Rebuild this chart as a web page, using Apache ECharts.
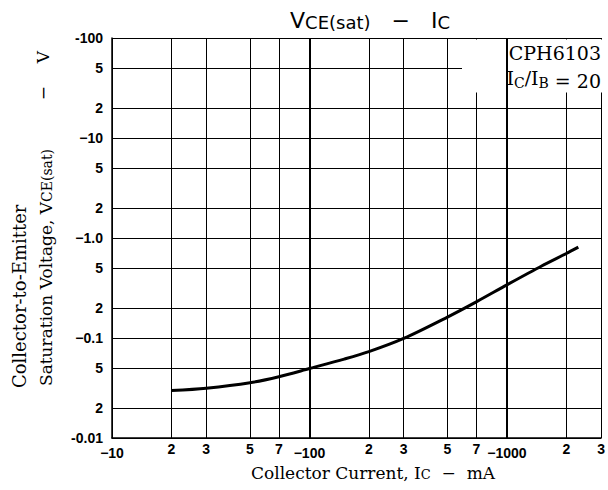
<!DOCTYPE html>
<html><head><meta charset="utf-8">
<script src="https://cdn.jsdelivr.net/npm/echarts@6/dist/echarts.min.js"></script>
<style>html,body{margin:0;padding:0;background:#fff}#c{width:608px;height:490px}</style>
</head><body><div id="c"></div>
<script>
// Data (magnitudes; axis labels carry the minus sign)
const currentMA = [20, 30, 50, 70, 100, 150, 200, 300, 500, 700, 1000, 1500, 2000, 2300];
const vceSat    = [0.0298, 0.0315, 0.0357, 0.041, 0.0495, 0.0615, 0.073, 0.099, 0.162, 0.23, 0.34, 0.525, 0.70, 0.81];
const xTickValues = [10, 20, 30, 50, 70, 100, 200, 300, 500, 700, 1000, 2000, 3000];
const xTickLabels = ['−10', '2', '3', '5', '7', '−100', '2', '3', '5', '7', '−1000', '2', '3'];
const yTickValues = [0.01, 0.02, 0.05, 0.1, 0.2, 0.5, 1, 2, 5, 10, 20, 50, 100];
const yTickLabels = ['-0.01', '2', '5', '−0.1', '2', '5', '−1.0', '2', '5', '−10', '2', '5', '-100'];

function lookup(vals, labels, v) {
  for (let i = 0; i < vals.length; i++) {
    if (Math.abs(Math.log10(v) - Math.log10(vals[i])) < 1e-4) return labels[i];
  }
  return '';
}

const chart = echarts.init(document.getElementById('c'), null, { renderer: 'svg' });
const tickFont = { fontFamily: '"Liberation Sans", Arial, sans-serif', fontWeight: 'bold', fontSize: 14, color: '#000' };
const serif = '"DejaVu Serif", "Liberation Serif", serif';
const sans = '"DejaVu Sans", sans-serif';

chart.setOption({
  animation: false,
  backgroundColor: '#fff',
  grid: { left: 112, right: 1.5, top: 38, bottom: 52 },
  xAxis: {
    type: 'log', logBase: 10, min: 10, max: 3000,
    axisLine: { show: true, lineStyle: { color: '#000', width: 1.5 } },
    axisTick: { show: false, customValues: xTickValues },
    axisLabel: {
      customValues: xTickValues, margin: 4, showMinLabel: true, showMaxLabel: true,
      formatter: v => { const s = lookup(xTickValues, xTickLabels, v); return s.charAt(0) === '−' ? '{d|' + s + '}' : '{n|' + s + '}'; },
      rich: {
        d: Object.assign({}, tickFont, { padding: [4, 0, 0, 0] }),
        n: Object.assign({}, tickFont)
      }
    },
    splitLine: { show: true, lineStyle: { color: '#000', width: 1 } },
    minorSplitLine: { show: false }
  },
  yAxis: {
    type: 'log', logBase: 10, min: 0.01, max: 100,
    axisLine: { show: true, lineStyle: { color: '#000', width: 1.5 } },
    axisTick: { show: false, customValues: yTickValues },
    axisLabel: Object.assign({
      customValues: yTickValues, margin: 9, showMinLabel: true, showMaxLabel: true,
      formatter: v => lookup(yTickValues, yTickLabels, v)
    }, tickFont),
    splitLine: { show: true, lineStyle: { color: '#000', width: 1 } }
  },
  series: [{
    type: 'line',
    data: currentMA.map((x, i) => [x, vceSat[i]]),
    smooth: 0.3,
    symbol: 'none',
    lineStyle: { color: '#000', width: 3 },
    markLine: {
      silent: true, symbol: 'none', label: { show: false },
      lineStyle: { color: '#000', width: 2, type: 'solid' },
      data: [{ xAxis: 100 }, { xAxis: 1000 }]
    },
    z: 5
  }],
  graphic: [
    { type: 'rect', z: 3, shape: { x: 462, y: 39.5, width: 144, height: 53 }, style: { fill: '#fff' } },
    { type: 'text', z: 10, x: 601, y: 53, style: { text: 'CPH6103', font: '19px ' + serif, fill: '#000', align: 'right', verticalAlign: 'middle' } },
    { type: 'text', z: 10, x: 601, y: 78, style: {
        text: 'I{s|C}/I{s|B}{n| = 20}', align: 'right', verticalAlign: 'middle',
        rich: {
          s: { fontFamily: serif, fontSize: 14, fill: '#000', verticalAlign: 'bottom', lineHeight: 14 },
          n: { fontFamily: serif, fontSize: 19, fill: '#000', verticalAlign: 'bottom', lineHeight: 24 }
        },
        fontFamily: serif, fontSize: 19, fill: '#000', lineHeight: 24
    } },
    { type: 'text', z: 10, x: 370, y: 18, style: {
        text: '{m|V}{s|CE(sat)}{m|   −   I}{s|C}', align: 'center', verticalAlign: 'middle',
        rich: {
          m: { fontFamily: sans, fontSize: 22, fill: '#000', verticalAlign: 'bottom', lineHeight: 26 },
          s: { fontFamily: sans, fontSize: 18, fill: '#000', verticalAlign: 'bottom', lineHeight: 18 }
        }
    } },
    { type: 'text', z: 10, x: 373, y: 470, style: {
        text: '{m|Collector Current, I}{s|C}{m|  −  mA}', align: 'center', verticalAlign: 'middle',
        rich: {
          m: { fontFamily: serif, fontSize: 17, fill: '#000', verticalAlign: 'bottom', lineHeight: 22 },
          s: { fontFamily: serif, fontSize: 13, fill: '#000', verticalAlign: 'bottom', lineHeight: 12 }
        }
    } },
    { type: 'text', z: 10, x: 19, y: 388, rotation: Math.PI / 2, style: {
        text: 'Collector-to-Emitter', font: '18px ' + serif, fill: '#000', align: 'left', verticalAlign: 'middle'
    } },
    { type: 'text', z: 10, x: 43, y: 386, rotation: Math.PI / 2, style: {
        text: '{m|Saturation Voltage, V}{s|CE(sat)}', align: 'left', verticalAlign: 'middle',
        rich: {
          m: { fontFamily: serif, fontSize: 17, fill: '#000', verticalAlign: 'bottom', lineHeight: 22 },
          s: { fontFamily: serif, fontSize: 14, fill: '#000', verticalAlign: 'bottom', lineHeight: 12 }
        }
    } },
    { type: 'text', z: 10, x: 43, y: 93, rotation: Math.PI / 2, style: {
        text: '−', font: '17px ' + serif, fill: '#000', align: 'center', verticalAlign: 'middle'
    } },
    { type: 'text', z: 10, x: 43, y: 57, rotation: Math.PI / 2, style: {
        text: 'V', font: '17px ' + serif, fill: '#000', align: 'center', verticalAlign: 'middle'
    } }
  ]
});
</script>
</body></html>
